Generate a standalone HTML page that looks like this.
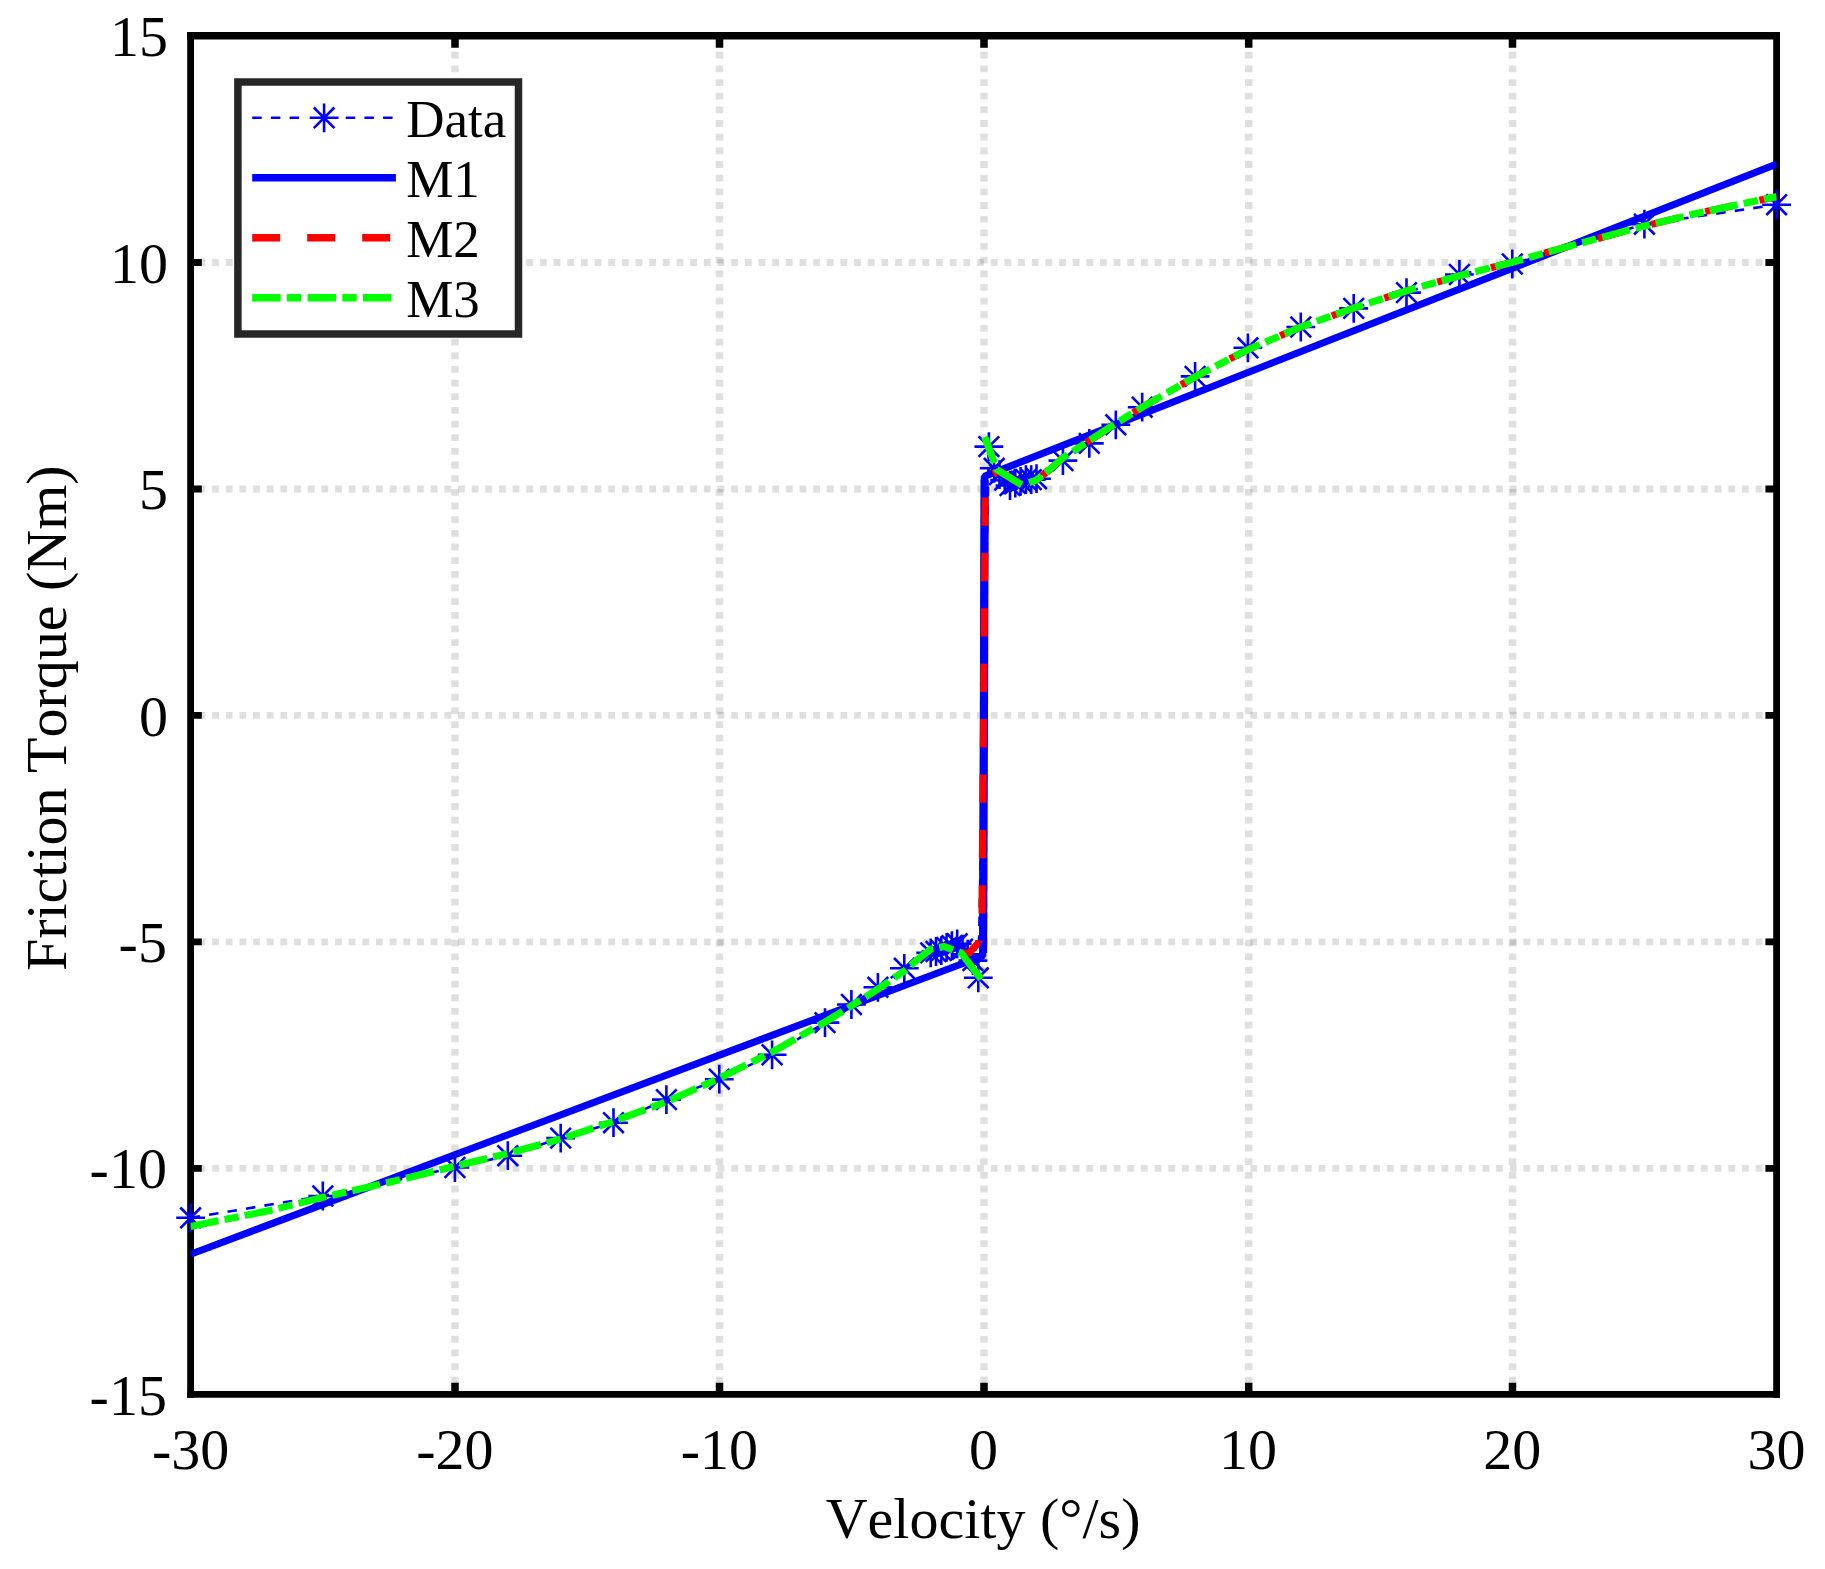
<!DOCTYPE html>
<html lang="en"><head><meta charset="utf-8"><title>Friction Torque vs Velocity</title>
<style>html,body{margin:0;padding:0;background:#fff;}body{width:1825px;height:1569px;overflow:hidden;}svg{display:block;}text{font-kerning:none;font-family:"Liberation Serif","Times New Roman",serif;fill:#000;}</style></head><body>
<svg width="1825" height="1569" viewBox="0 0 1825 1569">
<rect width="1825" height="1569" fill="#fff"/>
<defs><clipPath id="ax"><rect x="190.6" y="35.8" width="1586.0" height="1358.6"/></clipPath>
<g id="m" stroke="#0000ff" stroke-width="2.6" fill="none"><path d="M-14.4,0H14.4M0,-14.4V14.4M-10.3,-10.3L10.3,10.3M-10.3,10.3L10.3,-10.3"/></g>
</defs>
<g stroke="#262626" stroke-opacity="0.15" fill="none" stroke-dasharray="6.8 6.86">
<line x1="455.0" y1="35.8" x2="455.0" y2="1394.4" stroke-width="7.5" stroke-dashoffset="11.3"/>
<line x1="719.5" y1="35.8" x2="719.5" y2="1394.4" stroke-width="7.5" stroke-dashoffset="11.3"/>
<line x1="984.0" y1="35.8" x2="984.0" y2="1394.4" stroke-width="7.5" stroke-dashoffset="11.3"/>
<line x1="1248.7" y1="35.8" x2="1248.7" y2="1394.4" stroke-width="7.5" stroke-dashoffset="11.3"/>
<line x1="1512.5" y1="35.8" x2="1512.5" y2="1394.4" stroke-width="7.5" stroke-dashoffset="11.3"/>
<line x1="190.6" y1="1168.3" x2="1776.6" y2="1168.3" stroke-width="6.8" stroke-dashoffset="5.8"/>
<line x1="190.6" y1="941.8" x2="1776.6" y2="941.8" stroke-width="6.8" stroke-dashoffset="5.8"/>
<line x1="190.6" y1="715.4" x2="1776.6" y2="715.4" stroke-width="6.8" stroke-dashoffset="5.8"/>
<line x1="190.6" y1="489.0" x2="1776.6" y2="489.0" stroke-width="6.8" stroke-dashoffset="5.8"/>
<line x1="190.6" y1="262.5" x2="1776.6" y2="262.5" stroke-width="6.8" stroke-dashoffset="5.8"/>
</g>
<g stroke="#000" stroke-width="6.8" fill="none">
<path d="M190.6,32.0V1397.8M1776.6,32.0V1397.8"/>
<path d="M187.2,1394.4H1780.0"/>
<path d="M187.2,35.8H1780.0" stroke-width="7.6"/>
<path d="M455.0,1394.4v-11.6M455.0,35.8v12.0" stroke-width="7.5"/>
<path d="M719.5,1394.4v-11.6M719.5,35.8v12.0" stroke-width="7.5"/>
<path d="M984.0,1394.4v-11.6M984.0,35.8v12.0" stroke-width="7.5"/>
<path d="M1248.7,1394.4v-11.6M1248.7,35.8v12.0" stroke-width="7.5"/>
<path d="M1512.5,1394.4v-11.6M1512.5,35.8v12.0" stroke-width="7.5"/>
<path d="M190.6,1168.3h11.2M1776.6,1168.3h-11.2"/>
<path d="M190.6,941.8h11.2M1776.6,941.8h-11.2"/>
<path d="M190.6,715.4h11.2M1776.6,715.4h-11.2"/>
<path d="M190.6,489.0h11.2M1776.6,489.0h-11.2"/>
<path d="M190.6,262.5h11.2M1776.6,262.5h-11.2"/>
</g>
<g clip-path="url(#ax)" fill="none">
<polyline points="190.6,1217.8 322.8,1196.0 454.9,1167.5 507.8,1155.7 560.7,1138.1 613.5,1122.7 666.4,1099.6 719.3,1079.2 772.1,1054.8 825.0,1022.6 851.4,1004.5 877.9,987.3 904.3,968.3 930.7,952.9 936.0,951.5 941.3,950.6 946.6,947.4 951.9,945.6 957.2,943.8 962.5,949.2 967.7,954.2 973.0,960.6 978.3,977.8 988.9,446.6 994.2,468.3 999.5,474.6 1004.7,480.1 1010.0,485.5 1015.3,483.2 1020.6,481.4 1025.9,479.6 1031.2,479.6 1036.5,478.7 1062.9,460.6 1089.3,443.4 1115.8,424.8 1142.2,407.2 1195.1,376.4 1247.9,347.8 1300.8,327.0 1353.7,308.4 1406.5,292.6 1459.4,274.5 1512.3,264.0 1644.4,224.2 1776.6,204.7" stroke="#0000ff" stroke-width="2.6" stroke-dasharray="9.5 9.2"/>
</g>
<g>
<use href="#m" x="190.6" y="1217.8"/>
<use href="#m" x="322.8" y="1196.0"/>
<use href="#m" x="454.9" y="1167.5"/>
<use href="#m" x="507.8" y="1155.7"/>
<use href="#m" x="560.7" y="1138.1"/>
<use href="#m" x="613.5" y="1122.7"/>
<use href="#m" x="666.4" y="1099.6"/>
<use href="#m" x="719.3" y="1079.2"/>
<use href="#m" x="772.1" y="1054.8"/>
<use href="#m" x="825.0" y="1022.6"/>
<use href="#m" x="851.4" y="1004.5"/>
<use href="#m" x="877.9" y="987.3"/>
<use href="#m" x="904.3" y="968.3"/>
<use href="#m" x="930.7" y="952.9"/>
<use href="#m" x="936.0" y="951.5"/>
<use href="#m" x="941.3" y="950.6"/>
<use href="#m" x="946.6" y="947.4"/>
<use href="#m" x="951.9" y="945.6"/>
<use href="#m" x="957.2" y="943.8"/>
<use href="#m" x="962.5" y="949.2"/>
<use href="#m" x="967.7" y="954.2"/>
<use href="#m" x="973.0" y="960.6"/>
<use href="#m" x="978.3" y="977.8"/>
<use href="#m" x="988.9" y="446.6"/>
<use href="#m" x="994.2" y="468.3"/>
<use href="#m" x="999.5" y="474.6"/>
<use href="#m" x="1004.7" y="480.1"/>
<use href="#m" x="1010.0" y="485.5"/>
<use href="#m" x="1015.3" y="483.2"/>
<use href="#m" x="1020.6" y="481.4"/>
<use href="#m" x="1025.9" y="479.6"/>
<use href="#m" x="1031.2" y="479.6"/>
<use href="#m" x="1036.5" y="478.7"/>
<use href="#m" x="1062.9" y="460.6"/>
<use href="#m" x="1089.3" y="443.4"/>
<use href="#m" x="1115.8" y="424.8"/>
<use href="#m" x="1142.2" y="407.2"/>
<use href="#m" x="1195.1" y="376.4"/>
<use href="#m" x="1247.9" y="347.8"/>
<use href="#m" x="1300.8" y="327.0"/>
<use href="#m" x="1353.7" y="308.4"/>
<use href="#m" x="1406.5" y="292.6"/>
<use href="#m" x="1459.4" y="274.5"/>
<use href="#m" x="1512.3" y="264.0"/>
<use href="#m" x="1644.4" y="224.2"/>
<use href="#m" x="1776.6" y="204.7"/>
</g>
<g clip-path="url(#ax)" fill="none" stroke-width="7.1" stroke-linejoin="bevel">
<polyline points="190.6,1254.2 982.8,956.0 984.4,476.4 1776.6,164.0" stroke="#0000ff"/>
<line x1="983.1" y1="952.9" x2="984.7" y2="479.6" stroke="#0000ff" stroke-width="8.2"/>
<polyline points="961.9,952.9 968.7,953.3 978.4,942.8" stroke="#ff0000"/>
<polyline points="978.4,942.8 981.2,928.0 982.0,914.4 985.2,499.9 985.6,485.0 986.8,478.5 990.5,474.4 994.5,472.8 999.5,471.3 1021.9,485.0" stroke="#ff0000" stroke-dasharray="28.3 27.1" stroke-dashoffset="25.9"/>
<polyline points="1021.9,485.0 1036.5,480.1 1049.7,469.6 1062.9,457.9 1089.3,440.7 1115.8,423.5 1142.2,407.2 1195.1,376.8 1247.9,349.6 1300.8,327.0 1353.7,308.0 1406.5,290.8 1459.4,275.8 1512.3,262.2 1565.1,247.3 1644.4,226.0 1697.3,213.3 1776.6,196.6" stroke="#ff0000" stroke-dasharray="28.3 27.1" stroke-dashoffset="32.8"/>
<polyline points="190.6,1226.4 269.9,1210.5 322.8,1197.4 402.1,1179.3 454.9,1166.2 507.8,1153.5 560.7,1139.0 613.5,1121.3 666.4,1101.8 719.3,1078.3 772.1,1052.0 825.0,1022.1 851.4,1005.8 877.9,989.1 904.3,971.0 917.5,959.6 930.7,949.2 944.0,946.5 961.1,952.9 981.2,979.1" stroke="#00ff00" stroke-linejoin="miter" stroke-dasharray="28.4 6.2 14.4 6.2 28.4 6.2 14.4 6.2 28.4 6.2 14.4 6.2 28.4 6.2 14.4 6.2 28.4 6.2 14.4 6.2 28.4 6.2 14.4 6.2 28.4 6.2 14.4 6.2 28.4 6.2 14.4 6.2 28.4 6.2 14.4 6.2 28.4 6.2 14.4 6.2 28.4 6.2 14.4 6.2 28.4 6.2 14.4 6.2 28.4 6.2 14.4 6.2 28.4 6.2 14.4 6.2 28.4 6.2 14.4 6.2 45 6.2 14.4 6.2"/>
<polyline points="984.7,437.0 996.8,469.6 1021.9,485.0 1036.5,480.1 1049.7,469.6 1062.9,457.9 1089.3,440.7 1115.8,423.5 1142.2,407.2 1195.1,376.8 1247.9,349.6 1300.8,327.0 1353.7,308.0 1406.5,290.8 1459.4,275.8 1512.3,262.2 1565.1,247.3 1644.4,226.0 1697.3,213.3 1776.6,196.6" stroke="#00ff00" stroke-linejoin="miter" stroke-dasharray="27.8 6 30.2 7.8 14.6 5 28.5 6.2 14.5 6.2 28.5 6.2 14.5 6.2 28.5 6.2 14.5 6.2 28.5 6.2 14.5 6.2 28.5 6.2 14.5 6.2 28.5 6.2 14.5 6.2 28.5 6.2 14.5 6.2 28.5 6.2 14.5 6.2 28.5 6.2 14.5 6.2 28.5 6.2 14.5 6.2 28.5 6.2 14.5 6.2 28.5 6.2 14.5 6.2 28.5 6.2 14.5 6.2 28.5 6.2 14.5 6.2 28.5 6.2 14.5 6.2 28.5 6.2 14.5 6.2 28.5 6.2 14.5 6.2 28.5 6.2 14.5 6.2"/>
</g>
<rect x="237.9" y="82.0" width="280.6" height="252.0" fill="#fff" stroke="#262626" stroke-width="7.5"/>
<line x1="252.2" y1="117.8" x2="395.9" y2="117.8" stroke="#0000ff" stroke-width="2.6" stroke-dasharray="9.5 9.2"/>
<rect x="299.6" y="113.8" width="45.0" height="8" fill="#fff"/>
<use href="#m" x="324.1" y="117.8"/>
<line x1="252.2" y1="177.8" x2="395.9" y2="177.8" stroke="#0000ff" stroke-width="7.6"/>
<line x1="252.2" y1="237.8" x2="395.9" y2="237.8" stroke="#ff0000" stroke-width="7.6" stroke-dasharray="28 27"/>
<line x1="252.2" y1="297.8" x2="395.9" y2="297.8" stroke="#00ff00" stroke-width="7.6" stroke-dasharray="28.4 6.3 14.4 6.3"/>
<text x="406.2" y="136.6" font-size="53">Data</text>
<text x="406.2" y="196.6" font-size="53">M1</text>
<text x="406.2" y="256.6" font-size="53">M2</text>
<text x="406.2" y="316.6" font-size="53">M3</text>
<g font-size="58" text-anchor="middle">
<text x="190.6" y="1468.9">-30</text>
<text x="454.9" y="1468.9">-20</text>
<text x="719.3" y="1468.9">-10</text>
<text x="983.6" y="1468.9">0</text>
<text x="1247.9" y="1468.9">10</text>
<text x="1512.3" y="1468.9">20</text>
<text x="1776.6" y="1468.9">30</text>
</g>
<g font-size="58" text-anchor="end">
<text x="166.9" y="1414.8">-15</text>
<text x="166.9" y="1188.4">-10</text>
<text x="166.9" y="961.9">-5</text>
<text x="168.1" y="735.5">0</text>
<text x="168.1" y="509.1">5</text>
<text x="168.1" y="282.6">10</text>
<text x="168.1" y="56.2">15</text>
</g>
<text x="983.1" y="1538.1" font-size="58" text-anchor="middle">Velocity (°/s)</text>
<text transform="translate(66,718.2) rotate(-90)" font-size="58" text-anchor="middle">Friction Torque (Nm)</text>
</svg></body></html>
